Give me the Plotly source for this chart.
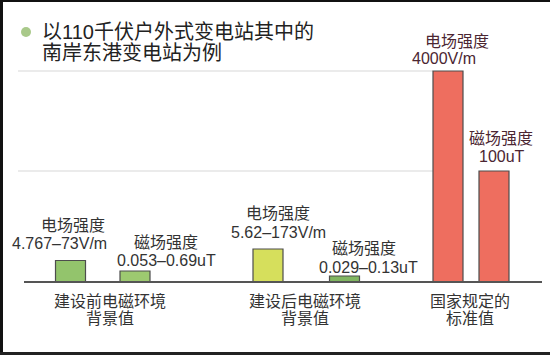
import plotly.graph_objects as go

# ---- data ----
groups = ["建设前电磁环境", "建设后电磁环境", "国家规定的"]
groups_line2 = ["背景值", "背景值", "标准值"]
elec_name = "电场强度"
mag_name = "磁场强度"
elec_text = ["4.767–73V/m", "5.62–173V/m", "4000V/m"]
mag_text = ["0.053–0.69uT", "0.029–0.13uT", "100uT"]
# schematic (visual) bar heights as drawn in the picture
elec_height = [21.5, 33, 211]
mag_height = [11, 6, 111]
title_lines = ["以110千伏户外式变电站其中的", "南岸东港变电站为例"]

# ---- layout / style (pixel units: 1 axis unit = 1 px) ----
W, H = 550, 355
BASE_PX = 282
elec_pos = [70.5, 268, 448]
mag_pos = [135, 344.5, 494]
bar_w = 30
elec_colors = ["#93c46c", "#d6df5c", "#ee6e5f"]
mag_colors = ["#9dc970", "#80b661", "#ee6e5f"]
elec_lbl_x1 = [73, 277.5, 457]
elec_lbl_x2 = [59, 278, 444]
elec_lbl_y1 = [57, 69, 241]
elec_lbl_y2 = [39, 50, 224]
mag_lbl_x1 = [165.5, 364, 501]
mag_lbl_x2 = [166, 368, 502]
mag_lbl_y1 = [40, 34, 144]
mag_lbl_y2 = [22, 15, 126]
lbl_colors = ["#333333", "#333333", "#4b2632"]
cat_x = [109.5, 304.5, 470]
FONT = "Liberation Sans, Arial, Noto Sans CJK SC, sans-serif"

fig = go.Figure()
fig.add_trace(go.Bar(x=elec_pos, y=elec_height, width=bar_w, name=elec_name,
                     marker=dict(color=elec_colors, line=dict(color="#4d4d4d", width=1.2)),
                     hoverinfo="skip"))
fig.add_trace(go.Bar(x=mag_pos, y=mag_height, width=bar_w, name=mag_name,
                     marker=dict(color=mag_colors, line=dict(color="#4d4d4d", width=1.2)),
                     hoverinfo="skip"))

ann = []
def t(x, y, s, size=16, color="#333333", xanchor="center"):
    ann.append(dict(x=x, y=y, text=s, showarrow=False, xref="x", yref="y",
                    xanchor=xanchor, yanchor="middle",
                    font=dict(family=FONT, size=size, color=color)))

for i in range(3):
    t(elec_lbl_x1[i], elec_lbl_y1[i], elec_name, color=lbl_colors[i])
    t(elec_lbl_x2[i], elec_lbl_y2[i], elec_text[i], color=lbl_colors[i])
    t(mag_lbl_x1[i], mag_lbl_y1[i], mag_name, color=lbl_colors[i])
    t(mag_lbl_x2[i], mag_lbl_y2[i], mag_text[i], color=lbl_colors[i])
    t(cat_x[i], BASE_PX - 301, groups[i], color="#333333")
    t(cat_x[i], BASE_PX - 318, groups_line2[i], color="#333333")

t(40, BASE_PX - 32, title_lines[0], size=20, color="#222222", xanchor="left")
t(40, BASE_PX - 53, title_lines[1], size=20, color="#222222", xanchor="left")

shapes = []
# light gridlines at the standard levels
for h in [elec_height[2], mag_height[2]]:
    shapes.append(dict(type="line", xref="x", yref="y", x0=18, x1=elec_pos[2] - bar_w / 2,
                       y0=h, y1=h, line=dict(color="#e4e4e4", width=1.5), layer="below"))
# baseline
shapes.append(dict(type="line", xref="x", yref="y", x0=24, x1=542, y0=0, y1=0,
                   line=dict(color="#555555", width=1.8)))
# bullet
shapes.append(dict(type="circle", xref="x", yref="y", x0=21, x1=31,
                   y0=BASE_PX - 37, y1=BASE_PX - 27, fillcolor="#a9c98a", line=dict(width=0)))
# dark frame edges
shapes.append(dict(type="rect", xref="paper", yref="paper", x0=0, x1=3 / W, y0=0, y1=1,
                   fillcolor="#111111", line=dict(width=0)))
shapes.append(dict(type="rect", xref="paper", yref="paper", x0=0, x1=1, y0=1 - 2 / H, y1=1,
                   fillcolor="#111111", line=dict(width=0)))
shapes.append(dict(type="rect", xref="paper", yref="paper", x0=0, x1=1, y0=0, y1=3 / H,
                   fillcolor="#222222", line=dict(width=0)))

fig.update_layout(
    width=W, height=H,
    margin=dict(l=0, r=0, t=0, b=0),
    paper_bgcolor="white", plot_bgcolor="white",
    showlegend=False, barmode="overlay",
    xaxis=dict(range=[0, W], visible=False, fixedrange=True),
    yaxis=dict(range=[BASE_PX - H, BASE_PX], visible=False, fixedrange=True),
    annotations=ann, shapes=shapes,
)
fig.write_html(
    "out.html",
    config={"displayModeBar": False},
    post_script="document.body.style.margin='0';document.body.style.padding='0';"
                "document.body.style.overflow='hidden';",
)
